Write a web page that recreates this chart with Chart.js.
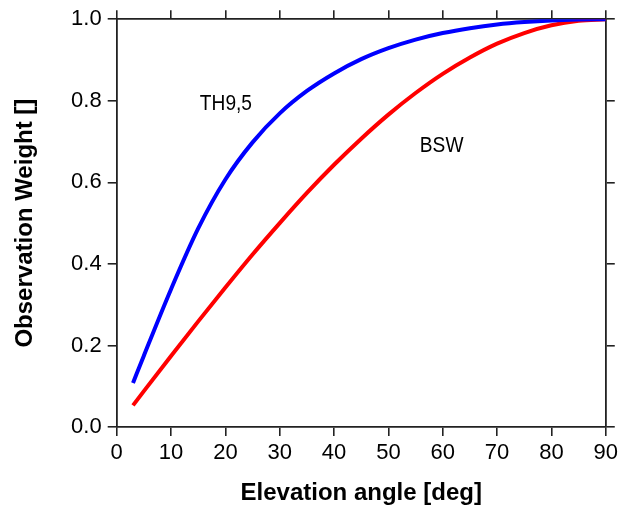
<!DOCTYPE html>
<html>
<head>
<meta charset="utf-8">
<script src="https://cdn.jsdelivr.net/npm/chart.js@4/dist/chart.umd.min.js"></script>
<style>
html,body{margin:0;padding:0;background:#fff;}
#wrap{width:622px;height:508px;position:relative;}
</style>
</head>
<body>
<div id="wrap"><canvas id="c" width="622" height="508"></canvas></div>
<script>
// Elevation angles (deg)
const elevation = [3, 5, 10, 15, 20, 25, 30, 35, 40, 45, 50, 55, 60, 65, 70, 75, 80, 85, 90];
// TH9,5 observation weight
const th95 = [0.108, 0.175, 0.338, 0.487, 0.607, 0.698, 0.769, 0.824, 0.867, 0.902, 0.929, 0.950, 0.966, 0.978, 0.987, 0.993, 0.997, 0.999, 1.000];
// BSW observation weight
const bsw = [0.053, 0.088, 0.174, 0.259, 0.342, 0.423, 0.500, 0.574, 0.643, 0.707, 0.766, 0.819, 0.866, 0.906, 0.940, 0.966, 0.985, 0.996, 1.000];
const xTicks = [0, 10, 20, 30, 40, 50, 60, 70, 80, 90];
const yTicks = [0.0, 0.2, 0.4, 0.6, 0.8, 1.0];
const curveLabels = [
  {text: 'TH9,5', x: 20.1, y: 0.793},
  {text: 'BSW', x: 59.8, y: 0.688}
];

const FONT = '"Liberation Sans", Arial, Helvetica, sans-serif';

const toXY = (xs, ys) => xs.map((x, i) => ({x: x, y: ys[i]}));

const labelPlugin = {
  id: 'curveLabels',
  afterDatasetsDraw(chart) {
    const {ctx, scales} = chart;
    curveLabels.forEach(l => {
      const px = scales.x.getPixelForValue(l.x);
      const py = scales.y.getPixelForValue(l.y);
      ctx.save();
      ctx.translate(px, py);
      ctx.scale(0.87, 1);
      ctx.fillStyle = '#000';
      ctx.font = '22px ' + FONT;
      ctx.textAlign = 'center';
      ctx.textBaseline = 'middle';
      ctx.fillText(l.text, 0, 0);
      ctx.restore();
    });
  }
};

const axisCommon = (pos) => ({
  type: 'linear',
  position: pos,
  border: {display: true, color: '#222', width: 1.8},
  grid: {drawOnChartArea: false, drawTicks: true, tickLength: 9, tickColor: '#222', lineWidth: 1.6}
});

const xBase = {min: 0, max: 90, afterBuildTicks: s => { s.ticks = xTicks.map(v => ({value: v})); }};
const yBase = {min: 0, max: 1, afterBuildTicks: s => { s.ticks = yTicks.map(v => ({value: v})); }};

new Chart(document.getElementById('c'), {
  type: 'line',
  data: {
    datasets: [
      {label: 'TH9,5', data: toXY(elevation, th95), borderColor: '#0000ff', borderWidth: 4, pointRadius: 0, cubicInterpolationMode: 'monotone', fill: false},
      {label: 'BSW', data: toXY(elevation, bsw), borderColor: '#ff0000', borderWidth: 4, pointRadius: 0, cubicInterpolationMode: 'monotone', fill: false}
    ]
  },
  options: {
    responsive: false,
    animation: false,
    layout: {padding: 0},
    plugins: {legend: {display: false}, tooltip: {enabled: false}},
    scales: {
      x: Object.assign(axisCommon('bottom'), xBase, {
        ticks: {color: '#000', font: {family: FONT, size: 22}, padding: 4, maxRotation: 0, autoSkip: false},
        title: {display: true, text: 'Elevation angle [deg]', color: '#000', font: {family: FONT, size: 24, weight: 'bold'}, padding: {top: 0, bottom: 0}},
        afterFit: s => { s.height = 508 - 427; }
      }),
      xTop: Object.assign(axisCommon('top'), xBase, {
        ticks: {display: true, color: 'rgba(0,0,0,0)', callback: () => ''},
        afterFit: s => { s.height = 18; }
      }),
      y: Object.assign(axisCommon('left'), yBase, {
        ticks: {color: '#000', font: {family: FONT, size: 22}, padding: 6, callback: v => Number(v).toFixed(1)},
        title: {display: true, text: 'Observation Weight []', color: '#000', font: {family: FONT, size: 24, weight: 'bold'}, padding: {top: 11, bottom: 0}},
        afterFit: s => { s.width = 116.7; }
      }),
      yRight: Object.assign(axisCommon('right'), yBase, {
        ticks: {display: true, color: 'rgba(0,0,0,0)', callback: () => ''},
        afterFit: s => { s.width = 622 - 606.7; }
      })
    }
  },
  plugins: [labelPlugin]
});
</script>
</body>
</html>
